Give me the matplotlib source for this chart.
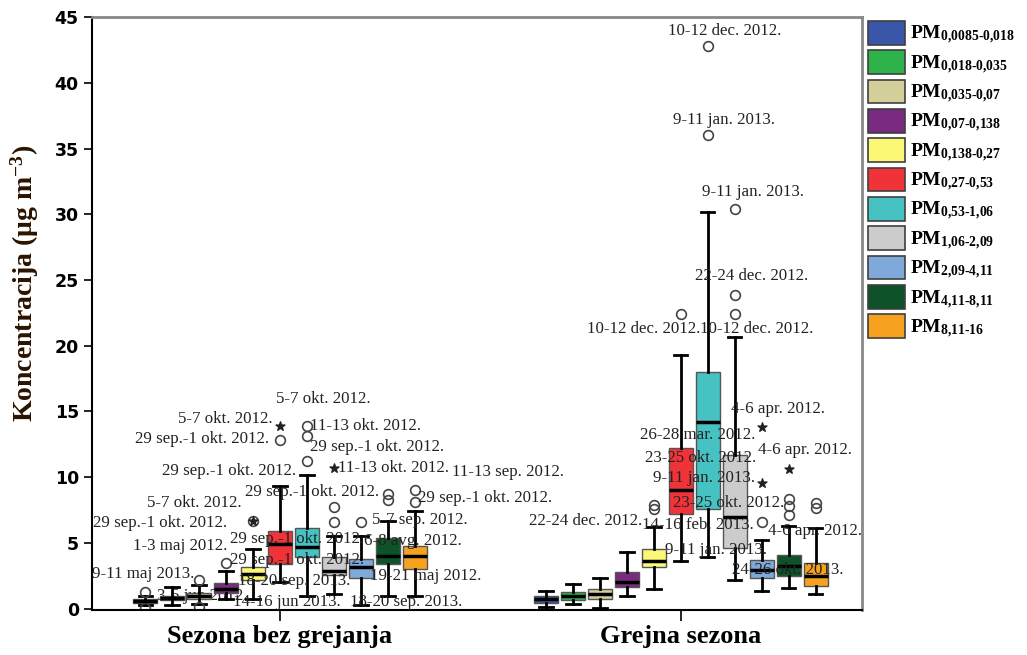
import numpy as np
import matplotlib
matplotlib.use("Agg")
from matplotlib import pyplot as plt
from matplotlib.patches import Patch

plt.rcParams['mathtext.fontset'] = 'custom'
plt.rcParams['mathtext.rm'] = 'Liberation Serif'
plt.rcParams['mathtext.bf'] = 'Liberation Serif:bold'
plt.rcParams['mathtext.it'] = 'Liberation Serif:italic'

groups = ['Sezona bez grejanja', 'Grejna sezona']
fractions = ['0,0085-0,018', '0,018-0,035', '0,035-0,07', '0,07-0,138', '0,138-0,27',
             '0,27-0,53', '0,53-1,06', '1,06-2,09', '2,09-4,11', '4,11-8,11', '8,11-16']
colors = ['#3a56a8', '#2db34a', '#d4cf9a', '#7a2a80', '#fbf875', '#ef3338',
          '#45c2c1', '#cccccc', '#7fa9d8', '#0e5229', '#f7a21f']

# non-heating season
q1_nh = [0.40, 0.63, 0.76, 1.20, 2.15, 3.41, 3.92, 2.53, 2.33, 3.41, 3.03]
med_nh = [0.55, 0.83, 0.96, 1.50, 2.65, 4.93, 4.68, 2.90, 3.16, 4.00, 4.00]
q3_nh = [0.70, 1.00, 1.20, 1.95, 3.16, 5.94, 6.12, 3.92, 3.80, 5.36, 4.80]
lo_nh = [0.25, 0.25, 0.38, 0.76, 0.70, 2.00, 1.00, 1.14, 0.25, 1.00, 1.00]
hi_nh = [0.95, 1.64, 1.77, 2.83, 4.55, 9.30, 10.17, 5.56, 5.56, 6.70, 7.46]
out_nh = [[1.30, 0.05], [], [2.2, 0.1], [3.5], [6.7], [12.8], [11.25, 13.1, 13.9],
          [6.6, 7.7], [6.6], [8.3, 8.7], [8.1, 9.0]]
ext_nh = [[], [], [], [], [6.7], [13.9], [], [10.7], [], [], []]

# heating season
q1_h = [0.45, 0.63, 0.76, 1.64, 3.16, 7.20, 7.60, 4.60, 2.35, 2.45, 1.72]
med_h = [0.70, 0.93, 1.14, 2.00, 3.60, 9.05, 14.17, 7.00, 2.96, 3.24, 2.48]
q3_h = [1.00, 1.27, 1.47, 2.78, 4.55, 12.20, 18.00, 11.70, 3.70, 4.12, 3.50]
lo_h = [0.10, 0.38, 0.05, 1.00, 1.50, 3.60, 3.90, 2.15, 1.34, 1.60, 1.14]
hi_h = [1.37, 1.90, 2.35, 4.30, 6.20, 19.30, 30.20, 20.70, 5.20, 6.30, 6.10]
out_h = [[], [], [], [], [7.6, 7.9], [22.4], [36.0, 42.8], [22.4, 23.85, 30.4],
         [6.6], [7.16, 7.84, 8.35], [7.64, 8.04]]
ext_h = [[], [], [], [], [], [], [], [], [9.56, 13.8], [10.6], []]

# case labels (text, x, y) in data coordinates
case_labels = [
    ('5-7 okt. 2012.', -0.010, 15.92), ('5-7 okt. 2012.', -0.254, 14.41),
    ('29 sep.-1 okt. 2012.', -0.362, 12.90), ('11-13 okt. 2012.', 0.075, 13.88),
    ('29 sep.-1 okt. 2012.', 0.075, 12.29), ('29 sep.-1 okt. 2012.', -0.294, 10.48),
    ('11-13 okt. 2012.', 0.145, 10.70), ('11-13 sep. 2012.', 0.429, 10.40),
    ('29 sep.-1 okt. 2012.', -0.087, 8.89), ('29 sep.-1 okt. 2012.', 0.344, 8.43),
    ('5-7 okt. 2012.', -0.332, 8.06), ('29 sep.-1 okt. 2012.', -0.466, 6.54),
    ('5-7 sep. 2012.', 0.229, 6.77), ('29 sep.-1 okt. 2012.', -0.125, 5.33),
    ('6-8 avg. 2012.', 0.209, 5.18), ('1-3 maj 2012.', -0.367, 4.80),
    ('29 sep.-1 okt. 2012.', -0.125, 3.74), ('9-11 maj 2013.', -0.469, 2.61),
    ('18-20 sep. 2013.', -0.105, 2.08), ('19-21 maj 2012.', 0.224, 2.46),
    ('14-16 jun 2013.', -0.117, 0.49), ('18-20 sep. 2013.', 0.175, 0.49),
    ('10-12 dec. 2012.', 0.968, 43.91), ('9-11 jan. 2013.', 0.980, 37.18),
    ('9-11 jan. 2013.', 1.052, 31.73), ('22-24 dec. 2012.', 1.035, 25.30),
    ('10-12 dec. 2012.', 0.766, 21.29), ('10-12 dec. 2012.', 1.047, 21.29),
    ('4-6 apr. 2012.', 1.125, 15.17), ('26-28 mar. 2012.', 0.898, 13.20),
    ('4-6 apr. 2012.', 1.192, 12.07), ('23-25 okt. 2012.', 0.910, 11.46),
    ('9-11 jan. 2013.', 0.930, 9.95), ('23-25 okt. 2012.', 0.980, 8.06),
    ('22-24 dec. 2012.', 0.621, 6.69), ('14-16 feb. 2013.', 0.903, 6.39),
    ('4-6 apr. 2012.', 1.217, 5.94), ('9-11 jan. 2013.', 0.960, 4.43),
    ('24-26 okt. 2013.', 1.127, 2.92),
]
# partly hidden label behind the first boxes
hidden_labels = [('3-5 jun 2012.', -0.307, 0.95)]

fig = plt.figure(figsize=(10.27, 6.55), dpi=100)
ax = fig.add_axes([0.0896, 0.0687, 0.7494, 0.9053])

step = 0.0673
width = 0.06
serif = 'Liberation Serif'

for t, x, y in case_labels:
    ax.text(x, y, t, ha='left', va='center', fontsize=12.2, family=serif,
            color='#222222', zorder=6)
for t, x, y in hidden_labels:
    ax.text(x, y, t, ha='left', va='center', fontsize=12.2, family=serif,
            color='#222222', zorder=1)

data = [(q1_nh, med_nh, q3_nh, lo_nh, hi_nh, out_nh, ext_nh),
        (q1_h, med_h, q3_h, lo_h, hi_h, out_h, ext_h)]
for g, (q1, med, q3, lo, hi, out, ext) in enumerate(data):
    for i in range(len(fractions)):
        pos = g + (i - 5) * step
        st = dict(q1=q1[i], med=med[i], q3=q3[i], whislo=lo[i], whishi=hi[i],
                  fliers=out[i])
        ax.bxp([st], positions=[pos], widths=width, patch_artist=True,
               showfliers=True, manage_ticks=False,
               boxprops=dict(facecolor=colors[i], edgecolor='#555555', linewidth=1),
               medianprops=dict(color='black', linewidth=2.5),
               whiskerprops=dict(color='black', linewidth=2),
               capprops=dict(color='black', linewidth=2),
               capwidths=width * 0.55,
               flierprops=dict(marker='o', markerfacecolor='none',
                               markeredgecolor='#444444', markersize=7,
                               markeredgewidth=1.2))
        if ext[i]:
            ax.scatter([pos] * len(ext[i]), ext[i], marker='*', s=45,
                       color='#222222', zorder=4)

ax.set_xlim(-0.469, 1.451)
ax.set_ylim(-0.1, 45)
ax.set_yticks(np.arange(0, 46, 5))
ax.set_xticks([0, 1])
ax.set_xticklabels(groups, fontsize=19, fontweight='bold', family=serif)
ax.tick_params(axis='x', length=8, width=1.2, pad=3)
ax.tick_params(axis='y', length=6, width=1.2, labelsize=12.5)
for lab in ax.get_yticklabels():
    lab.set_fontweight('bold')

ax.set_ylabel('Koncentracija (μg m$^{\\mathbf{-3}}$)', fontsize=20,
              fontweight='bold', family=serif, color='#2a1400')
ax.yaxis.set_label_coords(-0.066, 0.55)

for s in ['left', 'bottom']:
    ax.spines[s].set_linewidth(1.5)
for s in ['top', 'right']:
    ax.spines[s].set_color('#888888')
    ax.spines[s].set_linewidth(2)

handles = [Patch(facecolor=c, edgecolor='#404040', linewidth=1.2) for c in colors]
labels = ['$\\mathbf{PM_{%s}}$' % f.replace(',', '{,}').replace('-', '\\text{-}')
          for f in fractions]
ax.legend(handles, labels, loc='upper left', bbox_to_anchor=(1.003, 1.0),
          frameon=False, fontsize=14, handlelength=1.9, handleheight=1.5,
          labelspacing=0.2, handletextpad=0.25, borderaxespad=0.1,
          borderpad=0.1)

fig.savefig('out.png', dpi=100)
